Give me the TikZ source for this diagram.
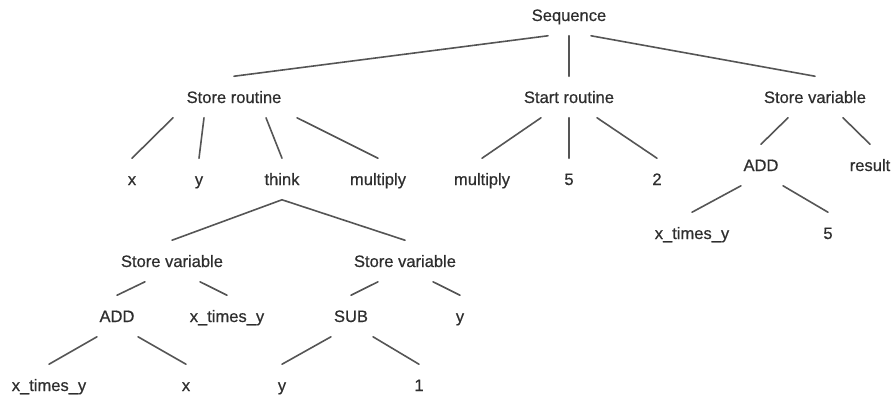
\documentclass[tikz,border=0pt]{standalone}
\usepackage{fontspec}
\setmainfont{Liberation Sans}
\newfontface\treefont{Liberation Sans}[FakeBold=0.6]
\definecolor{trtext}{HTML}{2E2E2E}
\definecolor{trline}{HTML}{555555}
\tikzset{
  term/.style   = {font=\treefont\fontsize{12.4}{14}\selectfont, text=trtext,
                   inner sep=0pt, text height=9pt, text depth=0pt,
                   minimum height=30.75pt},
  branch/.style = {draw=trline, line width=1.2pt, line cap=round},
}

\begin{document}
\begin{tikzpicture}[x=0.75pt, y=-0.75pt]
  \useasboundingbox (0,0) rectangle (893,394);

  % ---- level 0 / 1 ------------------------------------------------------
  \node[term] (seq)    at (569, 15) {Sequence};
  \node[term] (storer) at (234, 97) {Store routine};
  \node[term] (startr) at (569, 97) {Start routine};
  \node[term] (storev) at (815, 97) {Store variable};

  % ---- level 2 ----------------------------------------------------------
  \node[term] (srx)    at (132,179) {x};
  \node[term] (sry)    at (199,179) {y};
  \node[term] (think)  at (282,179) {think};
  \node[term] (srmul)  at (378,179) {multiply};
  \node[term] (stmul)  at (482,179) {multiply};
  \node[term] (stfive) at (569,179) {5};
  \node[term] (sttwo)  at (657,179) {2};
  \node[term] (svadd)  at (761,165) {ADD};
  \node[term] (svres)  at (870,165) {result};
  \node[term] (addxy)  at (692,233) {x\_times\_y};
  \node[term] (addfive) at (828,233) {5};

  % ---- body of think ----------------------------------------------------
  \node[term] (svl)    at (172,261) {Store variable};
  \node[term] (svm)    at (405,261) {Store variable};
  \node[term] (ladd)   at (117,316) {ADD};
  \node[term] (lxy)    at (227,316) {x\_times\_y};
  \node[term] (msub)   at (351,316) {SUB};
  \node[term] (my)     at (460,316) {y};
  \node[term] (bxy)    at ( 49,385) {x\_times\_y};
  \node[term] (bx)     at (186,385) {x};
  \node[term] (by)     at (282,385) {y};
  \node[term] (bone)   at (419,385) {1};

  % ---- branches ---------------------------------------------------------
  \draw[branch] ([shift={(-21,0)}]seq.south) -- (storer.north);
  \draw[branch] (seq.south) -- (startr.north);
  \draw[branch] ([shift={(22,0)}]seq.south) -- (storev.north);

  \draw[branch] ([shift={(-61,0)}]storer.south) -- (srx.north);
  \draw[branch] ([shift={(-30,0)}]storer.south) -- (sry.north);
  \draw[branch] ([shift={(32,0)}]storer.south) -- (think.north);
  \draw[branch] ([shift={(63,0)}]storer.south) -- (srmul.north);

  \draw[branch] ([shift={(-28,0)}]startr.south) -- (stmul.north);
  \draw[branch] (startr.south) -- (stfive.north);
  \draw[branch] ([shift={(28,0)}]startr.south) -- (sttwo.north);

  \draw[branch] ([shift={(-27,0)}]storev.south) -- (svadd.north);
  \draw[branch] ([shift={(28,0)}]storev.south) -- (svres.north);
  \draw[branch] ([shift={(-20,0)}]svadd.south) -- (addxy.north);
  \draw[branch] ([shift={(22,0)}]svadd.south) -- (addfive.north);

  \draw[branch] (svl.north) -- (think.south) -- (svm.north);

  \draw[branch] ([shift={(-27,0)}]svl.south) -- (ladd.north);
  \draw[branch] ([shift={(28,0)}]svl.south) -- (lxy.north);
  \draw[branch] ([shift={(-27,0)}]svm.south) -- (msub.north);
  \draw[branch] ([shift={(28,0)}]svm.south) -- (my.north);

  \draw[branch] ([shift={(-20,0)}]ladd.south) -- (bxy.north);
  \draw[branch] ([shift={(21,0)}]ladd.south) -- (bx.north);
  \draw[branch] ([shift={(-20,0)}]msub.south) -- (by.north);
  \draw[branch] ([shift={(22,0)}]msub.south) -- (bone.north);

\end{tikzpicture}
\end{document}
